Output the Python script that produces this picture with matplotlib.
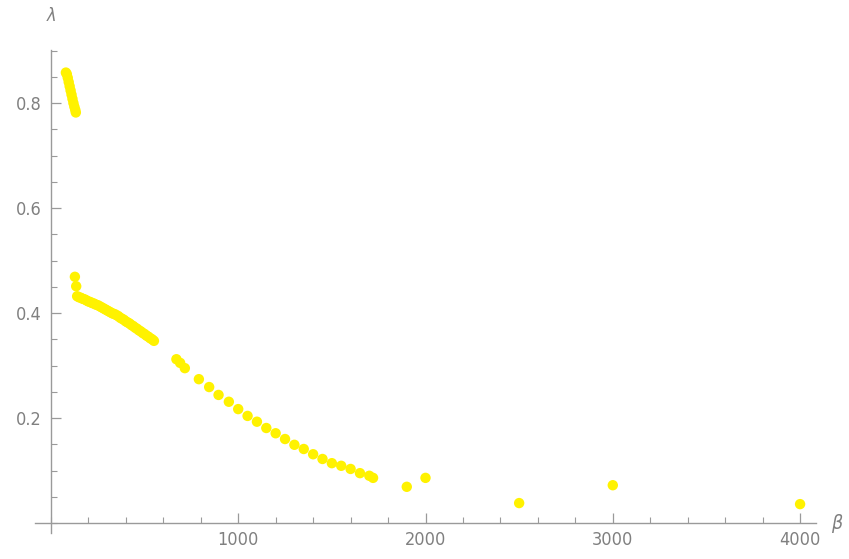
import numpy as np
import matplotlib
matplotlib.use("Agg")
from matplotlib import pyplot as plt
from matplotlib.ticker import MultipleLocator, FixedLocator

# branch near the top (small beta)
betaTop = [80, 85, 90, 95, 100, 105, 110, 115, 120, 125, 130, 133]
lambdaTop = [0.858, 0.855, 0.848, 0.840, 0.832, 0.824, 0.816, 0.808, 0.800, 0.793, 0.787, 0.782]

# lower branch
betaLow = [128, 135, 140, 150, 160, 170, 180, 190, 200, 210, 220, 230, 240, 250,
           260, 270, 280, 290, 300, 310, 320, 330, 340, 350, 360, 370, 380, 390,
           400, 410, 420, 430, 440, 450, 460, 470, 480, 490, 500, 510, 520, 530,
           540, 550,
           670, 690, 715, 790, 845, 895, 950, 1000, 1050, 1100, 1150, 1200, 1250,
           1300, 1350, 1400, 1450, 1500, 1550, 1600, 1650, 1700, 1720,
           1900, 2000, 2500, 3000, 4000]
lambdaLow = [0.469, 0.451, 0.432, 0.430, 0.429, 0.427, 0.426, 0.424, 0.422, 0.421,
             0.419, 0.418, 0.416, 0.415, 0.413, 0.411, 0.409, 0.407, 0.405, 0.403,
             0.401, 0.399, 0.398, 0.396, 0.394, 0.391, 0.389, 0.387, 0.384, 0.382,
             0.380, 0.377, 0.375, 0.372, 0.370, 0.367, 0.365, 0.362, 0.360, 0.357,
             0.355, 0.352, 0.350, 0.347,
             0.312, 0.305, 0.295, 0.274, 0.259, 0.244, 0.231, 0.217, 0.204, 0.193,
             0.181, 0.171, 0.160, 0.149, 0.141, 0.131, 0.122, 0.114, 0.109, 0.103,
             0.095, 0.090, 0.086,
             0.069, 0.086, 0.038, 0.072, 0.036]

xTicks = [1000, 2000, 3000, 4000]
yTicks = [0.2, 0.4, 0.6, 0.8]

plt.rcParams['font.family'] = ['DejaVu Sans']
plt.rcParams['font.stretch'] = 'condensed'
axisColor = '#9a9a9a'
labelColor = '#808080'
dotColor = '#fff200'

fig = plt.figure(figsize=(8.49, 5.59), dpi=100)
ax = fig.add_axes([35/849, 26/559, 781/849, 483/559])

ax.scatter(betaTop, lambdaTop, s=56, color=dotColor, edgecolors='none', zorder=3)
ax.scatter(betaLow, lambdaLow, s=56, color=dotColor, edgecolors='none', zorder=3)

ax.set_xlim(-85, 4085)
ax.set_ylim(-0.019, 0.901)

for side in ['top', 'right']:
    ax.spines[side].set_visible(False)
ax.spines['left'].set_position(('data', 0))
ax.spines['bottom'].set_position(('data', 0))
for side in ['left', 'bottom']:
    ax.spines[side].set_color(axisColor)
    ax.spines[side].set_linewidth(1.0)

ax.xaxis.set_major_locator(FixedLocator(xTicks))
ax.xaxis.set_minor_locator(MultipleLocator(200))
ax.yaxis.set_major_locator(FixedLocator(yTicks))
ax.yaxis.set_minor_locator(MultipleLocator(0.05))
ax.set_xticklabels([str(v) for v in xTicks])
ax.set_yticklabels([str(v) for v in yTicks])

ax.tick_params(which='major', direction='in', length=7, width=0.9, color=axisColor,
               labelcolor=labelColor, labelsize=13, pad=6)
ax.tick_params(which='minor', direction='in', length=4, width=0.8, color=axisColor)
ax.tick_params(axis='y', which='major', pad=7)

ax.text(4200, 0.0, r'$\beta$', color=labelColor, fontsize=14, ha='center', va='center',
        clip_on=False)
ax.text(0, 0.965, r'$\lambda$', color=labelColor, fontsize=13, ha='center', va='center',
        clip_on=False)

fig.savefig('out.png', dpi=100)
